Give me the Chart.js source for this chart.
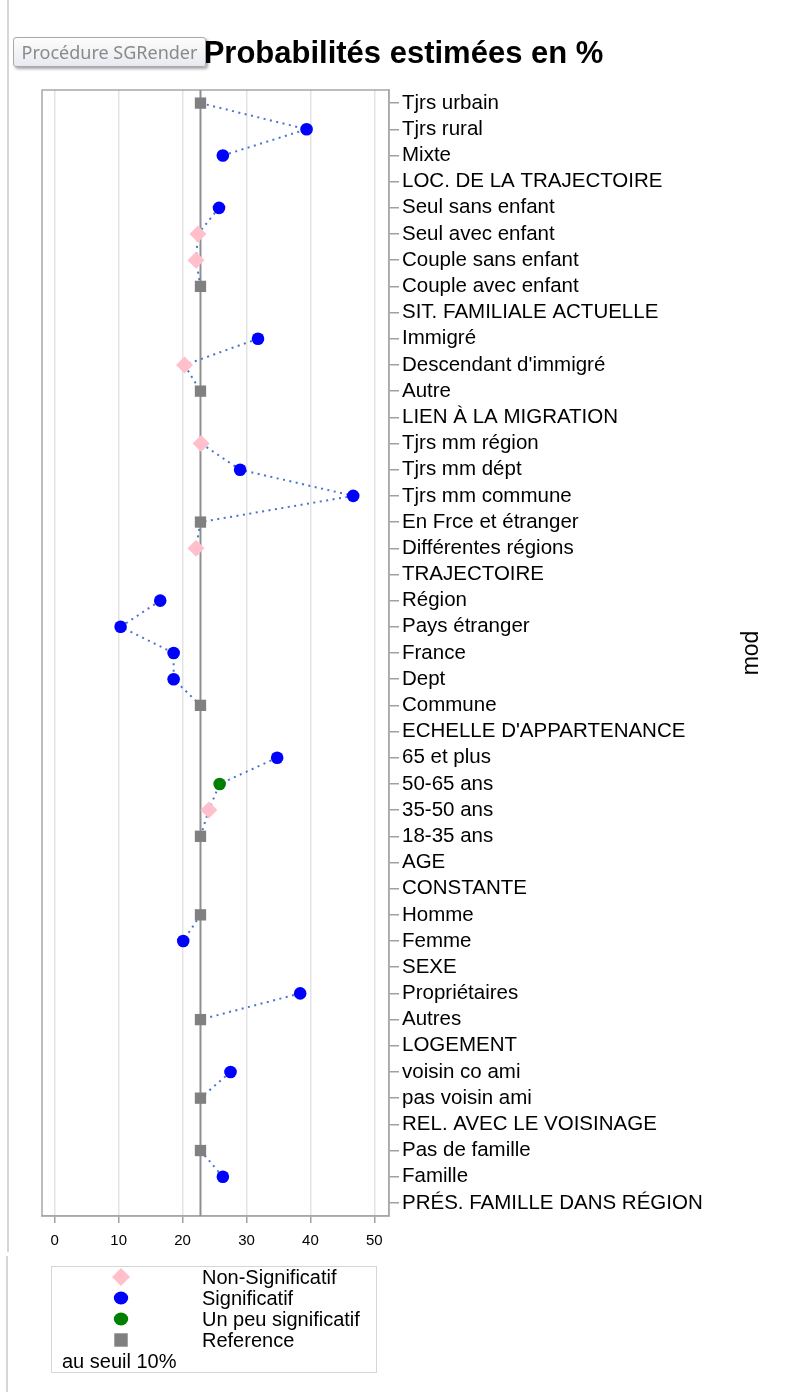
<!DOCTYPE html>
<html>
<head>
<meta charset="utf-8">
<title>Probabilités estimées en %</title>
<script src="https://cdn.jsdelivr.net/npm/chart.js@4.4.0/dist/chart.umd.min.js"></script>
<style>
  body { margin: 0; background: #fff; }
  #wrap { position: relative; width: 786px; height: 1392px; }
  #tip {
    position: absolute; left: 13px; top: 37px; width: 191px; height: 28px;
    border: 1px solid #a9a9a9; border-radius: 3px;
    background: linear-gradient(#fdfdfd, #e7eaf1);
    box-shadow: 2px 2px 3px rgba(0, 0, 0, 0.35);
    font: 18px 'Noto Sans'; color: #8a8a8a; line-height: 28px; text-align: center;
    z-index: 2;
  }
</style>
</head>
<body>
<div id="wrap">
  <canvas id="chart" width="786" height="1392"></canvas>
  <div id="tip">Procédure SGRender</div>
</div>
<script>
// categories, top to bottom
const categories = [
  'Tjrs urbain', 'Tjrs rural', 'Mixte', 'LOC. DE LA TRAJECTOIRE',
  'Seul sans enfant', 'Seul avec enfant', 'Couple sans enfant', 'Couple avec enfant', 'SIT. FAMILIALE ACTUELLE',
  'Immigré', "Descendant d'immigré", 'Autre', 'LIEN À LA MIGRATION',
  'Tjrs mm région', 'Tjrs mm dépt', 'Tjrs mm commune', 'En Frce et étranger', 'Différentes régions', 'TRAJECTOIRE',
  'Région', 'Pays étranger', 'France', 'Dept', 'Commune', "ECHELLE D'APPARTENANCE",
  '65 et plus', '50-65 ans', '35-50 ans', '18-35 ans', 'AGE',
  'CONSTANTE',
  'Homme', 'Femme', 'SEXE',
  'Propriétaires', 'Autres', 'LOGEMENT',
  'voisin co ami', 'pas voisin ami', 'REL. AVEC LE VOISINAGE',
  'Pas de famille', 'Famille', 'PRÉS. FAMILLE DANS RÉGION'
];

// estimated probabilities (%)
const probas = [
  22.8, 39.4, 26.3, null,
  25.7, 22.4, 22.1, 22.8, null,
  31.8, 20.3, 22.8, null,
  22.9, 29.0, 46.7, 22.8, 22.1, null,
  16.5, 10.3, 18.6, 18.6, 22.8, null,
  34.8, 25.8, 24.1, 22.8, null,
  null,
  22.8, 20.1, null,
  38.4, 22.8, null,
  27.5, 22.8, null,
  22.8, 26.3, null
];

// NS = non significatif, S = significatif, PS = un peu significatif, R = reference
const signif = [
  'R', 'S', 'S', null,
  'S', 'NS', 'NS', 'R', null,
  'S', 'NS', 'R', null,
  'NS', 'S', 'S', 'R', 'NS', null,
  'S', 'S', 'S', 'S', 'R', null,
  'S', 'PS', 'NS', 'R', null,
  null,
  'R', 'S', null,
  'S', 'R', null,
  'S', 'R', null,
  'R', 'S', null
];

const refValue = 22.8;
const xMin = -2;
const xMax = 52.3;
const xStep = 10;

const legendCodes = ['NS', 'S', 'PS', 'R'];
const legendLabels = ['Non-Significatif', 'Significatif', 'Un peu significatif', 'Reference'];
const legendNote = 'au seuil 10%';

const styles = {
  NS: { color: '#ffc0cb', pointStyle: 'rectRot', radius: 8.5 },
  S: { color: '#0000ff', pointStyle: 'circle', radius: 6.3 },
  PS: { color: '#008000', pointStyle: 'circle', radius: 6.3 },
  R: { color: '#808080', pointStyle: 'rect', radius: 8 }
};

const FONT = "'Liberation Sans', Arial, sans-serif";

// small marker drawer for the legend
function marker(ctx, style, x, y, r) {
  ctx.fillStyle = style.color;
  ctx.beginPath();
  if (style.pointStyle === 'circle') {
    ctx.ellipse(x, y, r + 0.7, r, 0, 0, Math.PI * 2);
  } else if (style.pointStyle === 'rectRot') {
    ctx.moveTo(x - r, y); ctx.lineTo(x, y - r); ctx.lineTo(x + r, y); ctx.lineTo(x, y + r);
    ctx.closePath();
  } else {
    const s = r * Math.SQRT1_2;
    ctx.rect(x - s, y - s, 2 * s, 2 * s);
  }
  ctx.fill();
}

const decor = {
  id: 'decor',
  beforeDatasetsDraw(chart) {
    const { ctx, chartArea: a, scales } = chart;
    ctx.save();
    // plot frame
    ctx.strokeStyle = '#a8a8a8';
    ctx.lineWidth = 1.5;
    ctx.strokeRect(a.left, a.top, a.right - a.left, a.bottom - a.top);
    // reference line
    const xr = scales.x.getPixelForValue(refValue);
    ctx.strokeStyle = '#8f8f8f';
    ctx.lineWidth = 2;
    ctx.beginPath();
    ctx.moveTo(xr, a.top);
    ctx.lineTo(xr, a.bottom);
    ctx.stroke();
    ctx.restore();
  },
  afterDraw(chart) {
    const { ctx, chartArea: a } = chart;
    ctx.save();
    // window edge
    ctx.fillStyle = '#d6d6d6';
    ctx.fillRect(7, 0, 2, 1252);
    ctx.fillRect(6, 1256, 2, 136);

    // title
    ctx.fillStyle = '#000';
    ctx.font = 'bold 31px ' + FONT;
    ctx.textAlign = 'center';
    ctx.textBaseline = 'alphabetic';
    ctx.fillText('Probabilités estimées en %', 403.5, 63);

    // axis title on the right
    ctx.save();
    ctx.translate(752, (a.top + a.bottom) / 2);
    ctx.rotate(-Math.PI / 2);
    ctx.font = '23px ' + FONT;
    ctx.textBaseline = 'middle';
    ctx.fillText('mod', 0, 0);
    ctx.restore();

    // legend
    ctx.strokeStyle = '#d6d6d6';
    ctx.lineWidth = 1;
    ctx.strokeRect(51.5, 1266.5, 325, 106);
    ctx.font = '20px ' + FONT;
    ctx.textAlign = 'left';
    ctx.textBaseline = 'middle';
    legendCodes.forEach((c, i) => {
      const y = 1277 + i * 21;
      const st = styles[c];
      marker(ctx, st, 121, y, c === 'NS' ? 9 : (c === 'R' ? 9.5 : 6.5));
      ctx.fillStyle = '#000';
      ctx.fillText(legendLabels[i], 202, y + 1);
    });
    ctx.fillText(legendNote, 62, 1362);
    ctx.restore();
  }
};

const datasets = [{
  data: probas,
  borderColor: '#4a74cc',
  borderWidth: 2,
  borderDash: [2, 4.5],
  pointRadius: 0,
  pointHoverRadius: 0,
  spanGaps: false,
  tension: 0,
  fill: false,
  order: 5
}].concat(legendCodes.map(c => ({
  data: probas.map((v, i) => signif[i] === c ? v : null),
  showLine: false,
  pointStyle: styles[c].pointStyle,
  pointRadius: styles[c].radius,
  pointHoverRadius: styles[c].radius,
  pointBackgroundColor: styles[c].color,
  pointBorderWidth: 0,
  order: 1
})));

new Chart(document.getElementById('chart'), {
  type: 'line',
  data: { labels: categories, datasets: datasets },
  options: {
    indexAxis: 'y',
    responsive: false,
    animation: false,
    events: [],
    layout: { padding: { left: 42, top: 90, right: 0, bottom: 0 } },
    plugins: {
      legend: { display: false },
      tooltip: { enabled: false },
      title: { display: false }
    },
    scales: {
      x: {
        type: 'linear',
        position: 'bottom',
        min: xMin,
        max: xMax,
        ticks: {
          stepSize: xStep,
          includeBounds: false,
          color: '#000',
          font: { family: FONT, size: 15 },
          padding: 9
        },
        grid: {
          color: '#e3e3e3',
          lineWidth: 1.5,
          tickColor: '#a0a0a0',
          tickLength: 7,
          tickWidth: 1.5
        },
        border: { display: true, color: '#a8a8a8', width: 1.5 },
        afterFit: s => { s.height = 176; }
      },
      y: {
        type: 'category',
        position: 'right',
        offset: true,
        ticks: {
          autoSkip: false,
          color: '#000',
          font: { family: FONT, size: 20.5 },
          padding: 3
        },
        grid: {
          drawOnChartArea: false,
          drawTicks: true,
          tickLength: 10,
          color: '#a0a0a0',
          lineWidth: 1.5
        },
        border: { display: true, color: '#a8a8a8', width: 1.5 },
        afterFit: s => { s.width = 397; }
      }
    }
  },
  plugins: [decor]
});
</script>
</body>
</html>
